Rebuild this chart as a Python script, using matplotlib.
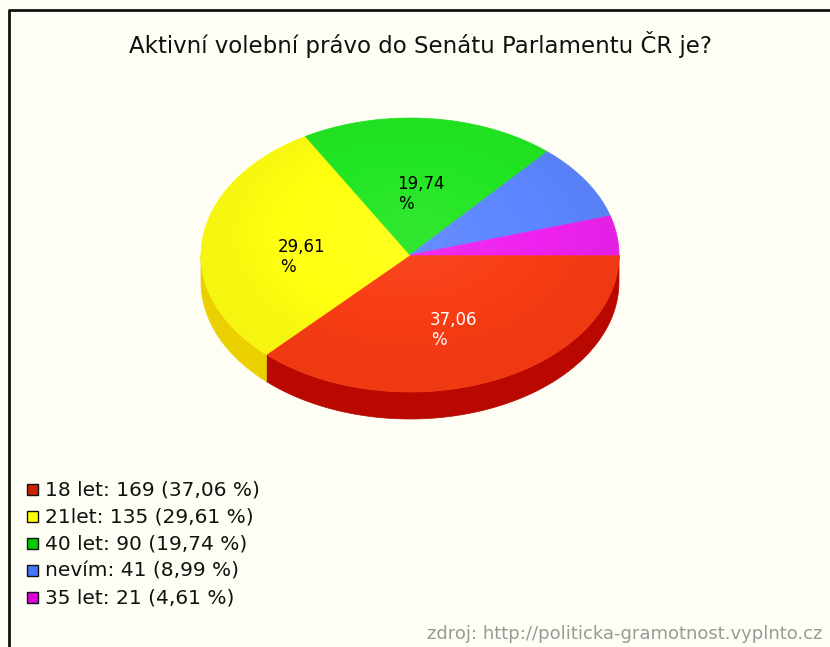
import numpy as np
import matplotlib
matplotlib.use("Agg")
import matplotlib.pyplot as plt
from matplotlib.patches import Polygon, Ellipse, Rectangle

# ---- data ----
labels = ["18 let", "21let", "40 let", "nevím", "35 let"]
counts = [169, 135, 90, 41, 21]
percents = [37.06, 29.61, 19.74, 8.99, 4.61]
top_colors = ["#F83C14", "#FFFF10", "#22E622", "#5C86FF", "#EE22EE"]
side_colors = ["#B80800", "#EAD000", "#10A010", "#3050C0", "#B010B0"]
legend_colors = ["#CC2200", "#FFFF00", "#00CC00", "#4477FF", "#DD00DD"]
label_colors = ["white", "black", "black", None, None]
title = "Aktivní volební právo do Senátu Parlamentu ČR je?"
source = "zdroj: http://politicka-gramotnost.vyplnto.cz"

W, H = 830, 647
fig = plt.figure(figsize=(W / 100, H / 100), dpi=100)
fig.patch.set_facecolor("#FEFEF4")
ax = fig.add_axes([0, 0, 1, 1])
ax.set_xlim(0, W)
ax.set_ylim(H, 0)
ax.axis("off")
ax.set_facecolor("#FEFEF4")

FONT = "DejaVu Sans"

# frame
ax.plot([9, 9, W + 5], [H + 5, 10, 10], color="#111111", lw=2.0, solid_capstyle="butt")

# title
ax.text(420, 45, title, ha="center", va="center", fontsize=16.5, family=FONT, color="#111111")

# ---- 3D pie ----
cx, cy, rx, ry, depth = 410, 255, 209, 137, 27
total = sum(percents)
angles = np.cumsum([0] + [p / total * 360 for p in percents])


def pt(theta_deg, r=1.0):
    t = np.radians(theta_deg)
    return cx + r * rx * np.cos(t), cy + r * ry * np.sin(t)


# sides (visible front half: screen angles 0..180)
for i in range(len(percents)):
    a1, a2 = angles[i], angles[i + 1]
    lo, hi = max(a1, 0), min(a2, 180)
    if hi <= lo:
        continue
    th = np.linspace(lo, hi, 80)
    xs, ys = pt(th)
    poly = list(zip(xs, ys)) + list(zip(xs[::-1], ys[::-1] + depth))
    ax.add_patch(Polygon(poly, closed=True, facecolor=side_colors[i], edgecolor=side_colors[i], lw=0.5))

# top wedges
for i in range(len(percents)):
    a1, a2 = angles[i], angles[i + 1]
    th = np.linspace(a1, a2, 120)
    xs, ys = pt(th)
    poly = [(cx, cy)] + list(zip(xs, ys))
    ax.add_patch(Polygon(poly, closed=True, facecolor=top_colors[i], edgecolor=top_colors[i], lw=0.5))

# soft shading on the top surface
gx = np.linspace(-1, 1, 300)
gy = np.linspace(-1, 1, 300)
GX, GY = np.meshgrid(gx, gy)
R = np.clip(np.sqrt(GX ** 2 + (GY + 0.15) ** 2), 0, 1.3)
rgba = np.zeros((300, 300, 4))
alpha = np.clip(0.12 * (R - 0.6), -0.10, 0.04)
rgba[..., :3] = np.where(alpha[..., None] > 0, 0.0, 1.0)
rgba[..., 3] = np.abs(alpha)
im = ax.imshow(rgba, extent=[cx - rx, cx + rx, cy + ry, cy - ry], interpolation="bilinear", zorder=2)
clip = Ellipse((cx, cy), 2 * rx, 2 * ry, transform=ax.transData, facecolor="none", edgecolor="none")
ax.add_patch(clip)
im.set_clip_path(clip)

# value labels: number centred on the anchor, "%" left-aligned below
for i in range(len(percents)):
    if label_colors[i] is None:
        continue
    mid = (angles[i] + angles[i + 1]) / 2
    x, y = pt(mid, 0.52)
    num = f"{percents[i]:.2f}".replace(".", ",")
    ax.text(x, y, num, ha="center", va="center", fontsize=12, family=FONT,
            color=label_colors[i], zorder=3)
    ax.text(x - 22, y + 20, "%", ha="left", va="center", fontsize=12, family=FONT,
            color=label_colors[i], zorder=3)

# legend
for i in range(len(percents)):
    y = 490 + 27 * i
    ax.add_patch(Rectangle((27, y - 6), 11, 11, facecolor=legend_colors[i], edgecolor="#111111", lw=1.0))
    ax.text(45, y, f"{labels[i]}: {counts[i]} (" + f"{percents[i]:.2f}".replace(".", ",") + " %)",
            ha="left", va="center", fontsize=14.5, family=FONT, color="#111111")

# source
ax.text(822, 634, source, ha="right", va="center", fontsize=13, family=FONT, color="#999999")

fig.savefig("out.png", dpi=100, facecolor=fig.get_facecolor())
